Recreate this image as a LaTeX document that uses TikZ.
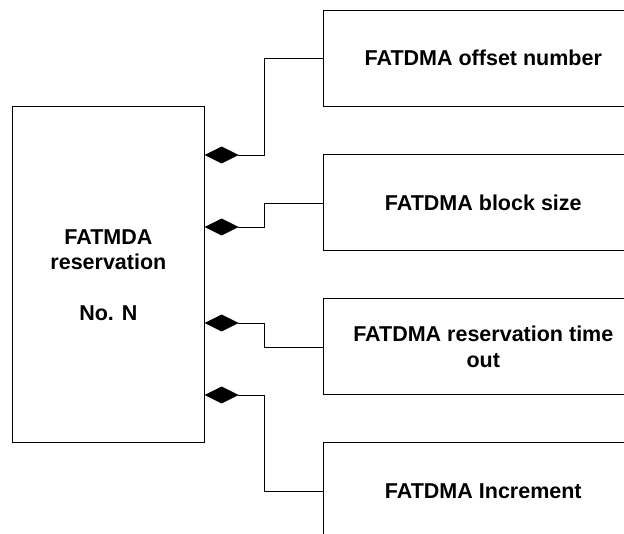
\documentclass[tikz,border=0pt]{standalone}
\usepackage{fontspec}
\setmainfont{Liberation Sans}
\usetikzlibrary{arrows.meta}
\tikzset{
  box/.style={draw=black, line width=1pt, rectangle, inner sep=0pt, align=center,
    font=\fontsize{21.5}{25.5}\selectfont\bfseries},
  conn/.style={draw=black, line width=0.75pt, {Diamond[length=34pt,width=17pt,line width=0pt]}-},
}
\begin{document}
\begin{tikzpicture}[x=1pt,y=-1pt]
\useasboundingbox (0,0) rectangle (624,534);
\clip (0,0) rectangle (624,534);
\node[box, minimum width=191.3pt, minimum height=336pt] (res) at (108.4,275)
  {FATMDA\\reservation\\[25.5pt]No. N};
\node[box, minimum width=320pt, minimum height=96pt] (b1) at (483.3,58.2) {FATDMA offset number};
\node[box, minimum width=320pt, minimum height=96pt] (b2) at (483.3,203) {FATDMA block size};
\node[box, minimum width=320pt, minimum height=96pt] (b3) at (483.3,347) {FATDMA reservation time\\out};
\node[box, minimum width=320pt, minimum height=96pt] (b4) at (483.3,491) {FATDMA Increment};
\coordinate (p1) at (res.east |- 0,155);
\coordinate (p2) at (res.east |- 0,227);
\coordinate (p3) at (res.east |- 0,323);
\coordinate (p4) at (res.east |- 0,395);
\draw[conn] (p1) -- ++(59.7,0) |- (b1.west);
\draw[conn] (p2) -- ++(59.7,0) |- (b2.west);
\draw[conn] (p3) -- ++(59.7,0) |- (b3.west);
\draw[conn] (p4) -- ++(59.7,0) |- (b4.west);
\end{tikzpicture}
\end{document}
